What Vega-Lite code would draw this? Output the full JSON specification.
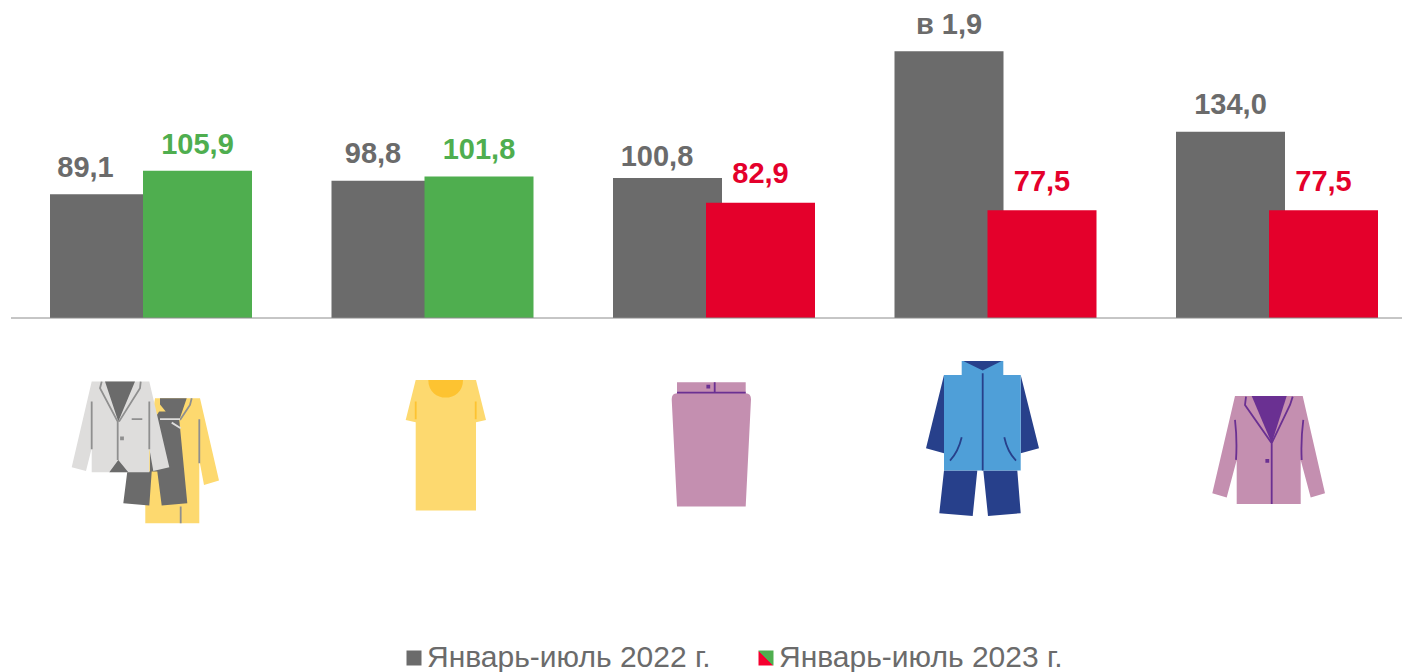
{
"$schema":"https://vega.github.io/schema/vega-lite/v6.json",
"width":1391,"height":672,
"autosize":{"type":"none"},
"padding":{"left":11,"top":0,"right":0,"bottom":0},
"background":"white",
"config":{"view":{"stroke":null},"font":"Liberation Sans"},
"datasets":{
"bars":[
{"category":"Костюмы и пальто","series":"Январь-июль 2022 г.","value":89.1,"label":"89,1","direction":"base"},
{"category":"Костюмы и пальто","series":"Январь-июль 2023 г.","value":105.9,"label":"105,9","direction":"up"},
{"category":"Платья","series":"Январь-июль 2022 г.","value":98.8,"label":"98,8","direction":"base"},
{"category":"Платья","series":"Январь-июль 2023 г.","value":101.8,"label":"101,8","direction":"up"},
{"category":"Юбки","series":"Январь-июль 2022 г.","value":100.8,"label":"100,8","direction":"base"},
{"category":"Юбки","series":"Январь-июль 2023 г.","value":82.9,"label":"82,9","direction":"down"},
{"category":"Куртки","series":"Январь-июль 2022 г.","value":192,"label":"в 1,9","direction":"base"},
{"category":"Куртки","series":"Январь-июль 2023 г.","value":77.5,"label":"77,5","direction":"down"},
{"category":"Жакеты","series":"Январь-июль 2022 г.","value":134.0,"label":"134,0","direction":"base"},
{"category":"Жакеты","series":"Январь-июль 2023 г.","value":77.5,"label":"77,5","direction":"down"}
],
"fills":[
{"category":"Костюмы и пальто","part":"coat"},
{"category":"Костюмы и пальто","part":"trousers"},
{"category":"Костюмы и пальто","part":"collar"},
{"category":"Костюмы и пальто","part":"jacket"},
{"category":"Костюмы и пальто","part":"jacketV"},
{"category":"Платья","part":"dress"},
{"category":"Платья","part":"neck"},
{"category":"Юбки","part":"skirt"},
{"category":"Куртки","part":"sleeves"},
{"category":"Куртки","part":"body"},
{"category":"Куртки","part":"hood"},
{"category":"Жакеты","part":"blazer"},
{"category":"Жакеты","part":"blazerV"}
],
"lines":[
{"category":"Костюмы и пальто","part":"jacketLines"},
{"category":"Костюмы и пальто","part":"coatLines"},
{"category":"Костюмы и пальто","part":"coatLight"},
{"category":"Платья","part":"dressLines"},
{"category":"Юбки","part":"skirtLines"},
{"category":"Куртки","part":"zip"},
{"category":"Жакеты","part":"blazerLines"}
]
},
"data":{"name":"bars"},
"resolve":{"scale":{"shape":"independent"}},
"encoding":{
"x":{"field":"category","type":"nominal","axis":null,"sort":null,"scale":{"type":"point","padding":0,"domain":["Костюмы и пальто","Платья","Юбки","Куртки","Жакеты"],"range":[140,1266]}}
},
"layer":[
{"mark":{"type":"bar","width":109},
"encoding":{
"xOffset":{"field":"series","type":"nominal","scale":{"type":"point","padding":0,"domain":["Январь-июль 2022 г.","Январь-июль 2023 г."],"range":[-46.5,46.5]}},
"y":{"field":"value","type":"quantitative","stack":null,"axis":null,"scale":{"domain":[-254.7,228.8],"nice":false,"zero":false}},
"color":{"field":"direction","type":"nominal","legend":null,"scale":{"domain":["base","up","down"],"range":["#6b6b6b","#4fae4f","#e4002b"]}},
"opacity":{"field":"series","type":"nominal","scale":{"domain":["Январь-июль 2022 г.","Январь-июль 2023 г."],"range":[1,1]},
"legend":{"title":null,"orient":"none","legendX":388,"legendY":643,"direction":"horizontal","columns":2,"symbolType":"square","symbolSize":225,"symbolStrokeWidth":0,"labelFont":"Liberation Sans","labelFontSize":30,"labelColor":"#6b6b6b","labelLimit":400,"labelOffset":-2,"columnPadding":40,"padding":0,
"symbolFillColor":{"expr":"datum.value === 'Январь-июль 2023 г.' ? {gradient:'linear',x1:0,y1:1,x2:1,y2:0,stops:[{offset:0,color:'#f5002f'},{offset:0.5,color:'#f5002f'},{offset:0.5,color:'#4fae4f'},{offset:1,color:'#4fae4f'}]} : '#6b6b6b'"}}}
}},
{"data":{"values":[{"baseline":0}]},"mark":{"type":"rule","color":"#8c8c8c","strokeWidth":1},
"encoding":{"x":null,"y":{"field":"baseline","type":"quantitative"}}},
{"transform":[{"filter":"datum.direction === 'up' || datum.category === 'Куртки' && datum.direction === 'base' || datum.category === 'Жакеты' && datum.direction === 'base'"}],
"mark":{"type":"text","font":"Liberation Sans","fontWeight":"bold","fontSize":29,"baseline":"alphabetic","dy":-17.3},
"encoding":{
"xOffset":{"field":"series","type":"nominal","scale":{"type":"point","padding":0,"domain":["Январь-июль 2022 г.","Январь-июль 2023 г."],"range":[-46.5,46.5]}},
"y":{"field":"value","type":"quantitative","stack":null},
"text":{"field":"label"},
"color":{"field":"direction","type":"nominal","legend":null}}},
{"transform":[{"filter":"datum.direction === 'down'"}],
"mark":{"type":"text","font":"Liberation Sans","fontWeight":"bold","fontSize":29,"baseline":"alphabetic","dy":-19.3},
"encoding":{
"xOffset":{"field":"series","type":"nominal","scale":{"type":"point","padding":0,"domain":["Январь-июль 2022 г.","Январь-июль 2023 г."],"range":[-46.5,46.5]}},
"y":{"field":"value","type":"quantitative","stack":null},
"text":{"field":"label"},
"color":{"field":"direction","type":"nominal","legend":null}}},
{"transform":[{"filter":"datum.direction === 'base' && datum.category === 'Костюмы и пальто'"}],
"mark":{"type":"text","font":"Liberation Sans","fontWeight":"bold","fontSize":29,"baseline":"alphabetic","dy":-17.3,"dx":-19,"color":"#6b6b6b"},
"encoding":{
"xOffset":{"field":"series","type":"nominal","scale":{"type":"point","padding":0,"domain":["Январь-июль 2022 г.","Январь-июль 2023 г."],"range":[-46.5,46.5]}},
"y":{"field":"value","type":"quantitative","stack":null},"text":{"field":"label"}}},
{"transform":[{"filter":"datum.direction === 'base' && datum.category === 'Платья'"}],
"mark":{"type":"text","font":"Liberation Sans","fontWeight":"bold","fontSize":29,"baseline":"alphabetic","dy":-17.3,"dx":-13,"color":"#6b6b6b"},
"encoding":{
"xOffset":{"field":"series","type":"nominal","scale":{"type":"point","padding":0,"domain":["Январь-июль 2022 г.","Январь-июль 2023 г."],"range":[-46.5,46.5]}},
"y":{"field":"value","type":"quantitative","stack":null},"text":{"field":"label"}}},
{"transform":[{"filter":"datum.direction === 'base' && datum.category === 'Юбки'"}],
"mark":{"type":"text","font":"Liberation Sans","fontWeight":"bold","fontSize":29,"baseline":"alphabetic","dy":-12,"dx":-10.5,"color":"#6b6b6b"},
"encoding":{
"xOffset":{"field":"series","type":"nominal","scale":{"type":"point","padding":0,"domain":["Январь-июль 2022 г.","Январь-июль 2023 г."],"range":[-46.5,46.5]}},
"y":{"field":"value","type":"quantitative","stack":null},"text":{"field":"label"}}},
{"data":{"name":"fills"},
"mark":{"type":"point","filled":true,"size":40000,"opacity":1,"strokeWidth":0},
"encoding":{
"y":{"datum":-90.6,"type":"quantitative"},
"shape":{"field":"part","type":"nominal","legend":null,"scale":{
"domain":["coat","trousers","collar","jacket","jacketV","dress","neck","skirt","sleeves","body","hood","blazer","blazerV"],
"range":[
"M.04 -.457 L.49 -.457 L.68 .367 L.53 .41 L.483 .16 L.483 .793 L-.057 .793 L-.057 .16 Z",
"M.09 -.457 L.357 -.457 L.283 -.24 L.363 .593 L.107 .617 L.063 .277 L.007 .277 L-.017 .617 L-.277 .593 L-.237 .277 L-.01 .277 L-.01 -.173 L.09 -.34 Z",
"M.04 -.457 L.147 -.323 L.073 -.323 Z",
"M-.593 -.623 L-.017 -.623 L.183 .233 L.023 .27 L-.017 .043 L-.017 .283 L-.593 .283 L-.593 .043 L-.65 .27 L-.793 .233 Z",
"M-.46 -.623 L-.16 -.623 L-.327 -.223 Z M-.327 .16 L-.227 .283 L-.417 .283 Z",
"M-.168 -.64 L.435 -.64 L.535 -.24 L.435 -.217 L.435 .667 L-.168 .667 L-.168 -.217 L-.268 -.24 Z",
"M-.042 -.64 L.305 -.64 C.305 -.404 -.042 -.404 -.042 -.64 Z",
"M-.37 -.617 L.317 -.617 L.317 -.507 Q.37 -.507 .37 -.447 L.317 .627 L-.37 .627 L-.423 -.447 Q-.423 -.507 -.37 -.507 Z",
"M-.515 -.69 L-.695 .043 L-.515 .093 Z M.252 -.69 L.435 .043 L.252 .093 Z M-.515 .267 L-.182 .267 L-.228 .72 L-.562 .693 Z M-.122 .267 L.218 .267 L.252 .693 L-.075 .72 Z",
"M-.338 -.83 L.078 -.83 L.078 -.69 L.252 -.69 L.252 .267 L-.515 .267 L-.515 -.69 L-.338 -.69 Z",
"M-.322 -.83 L.062 -.83 L-.128 -.733 Z",
"M-.42 -.48 L.257 -.48 L.48 .493 L.337 .537 L.237 .16 L.237 .6 L-.403 .6 L-.403 .16 L-.503 .537 L-.647 .493 Z",
"M-.253 -.48 L.097 -.48 L-.053 -.007 Z"
]}},
"fill":{"field":"part","type":"nominal","legend":null,"scale":{
"domain":["coat","trousers","collar","jacket","jacketV","dress","neck","skirt","sleeves","body","hood","blazer","blazerV"],
"range":["#fdd96f","#6b6b6b","#fdd96f","#dedddc","#6b6b6b","#fdd96f","#fdc331","#c48fb0","#27408b","#4f9fd8","#27408b","#c48fb0","#6a3092"]}}
}},
{"data":{"name":"lines"},
"mark":{"type":"point","filled":false,"size":40000,"opacity":1,"strokeWidth":1.8},
"encoding":{
"y":{"datum":-90.6,"type":"quantitative"},
"shape":{"field":"part","type":"nominal","legend":null,"scale":{
"domain":["jacketLines","coatLines","coatLight","dressLines","skirtLines","zip","blazerLines"],
"range":[
"M-.333 -.223 L-.333 .16 M-.493 -.623 L-.51 -.557 L-.333 -.223 M-.103 -.623 L-.11 -.557 L-.32 -.223 M-.593 -.423 L-.593 .053 M-.017 -.423 L-.017 .053 M-.193 -.247 L-.087 -.247 M-.3 -.065 L-.28 -.065 L-.28 -.045 L-.3 -.045 Z",
"M.297 .627 L.297 .793 M.483 -.247 L.483 .193 M.407 -.457 L.39 -.39 L.29 -.24",
"M.09 -.247 L.29 -.247 M.207 -.213 L.297 -.157",
"M-.168 -.423 L-.168 -.247 M.432 -.423 L.432 -.247",
"M-.37 -.513 L.317 -.513 M.007 -.617 L.007 -.513 M-.067 -.583 L-.047 -.583 L-.047 -.563 L-.067 -.563 Z",
"M-.128 -.707 L-.128 .267 M-.338 -.067 Q-.372 .077 -.455 .167 M.088 -.067 Q.118 .077 .205 .167",
"M-.053 -.007 L-.053 .6 M-.31 -.473 L-.32 -.39 L-.053 -.007 M.157 -.473 L.13 -.39 L-.053 -.007 M-.42 -.24 Q-.397 -.04 -.41 .16 M.263 -.24 Q.237 -.04 .247 .16 M-.107 .16 L-.087 .16 L-.087 .18 L-.107 .18 Z"
]}},
"stroke":{"field":"part","type":"nominal","legend":null,"scale":{
"domain":["jacketLines","coatLines","coatLight","dressLines","skirtLines","zip","blazerLines"],
"range":["#8f8f8f","#8f8f8f","#dedddc","#fdc331","#6a3092","#27408b","#6a3092"]}}
}}
]
}
